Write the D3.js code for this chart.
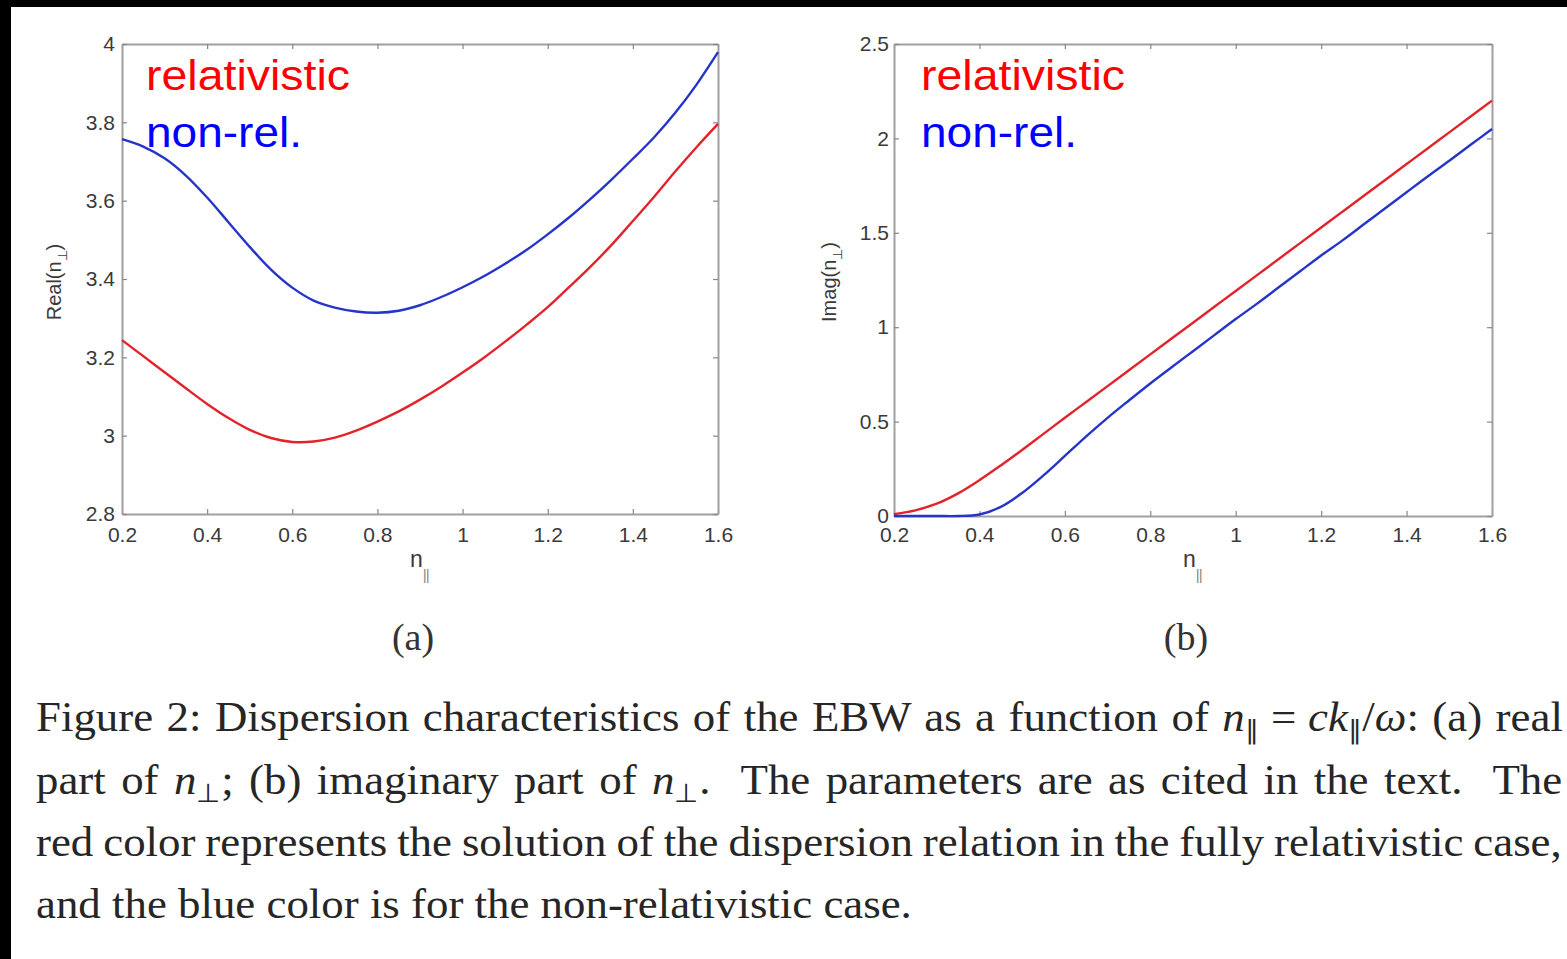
<!DOCTYPE html>
<html>
<head>
<meta charset="utf-8">
<script src="https://cdn.jsdelivr.net/npm/d3@7"></script>
<style>
  body { margin: 0; background: #fff; }
  svg { display: block; }
</style>
</head>
<body>
<svg id="fig" width="1567" height="959"></svg>
<script>
// n_parallel samples
var nPar = [0.2, 0.25, 0.3, 0.35, 0.4, 0.45, 0.5, 0.55, 0.6, 0.65, 0.7, 0.75, 0.8, 0.85, 0.9,
            0.95, 1.0, 1.05, 1.1, 1.15, 1.2, 1.25, 1.3, 1.35, 1.4, 1.45, 1.5, 1.55, 1.6];

// (a) real part of n_perp
var realRel    = [3.244, 3.203, 3.162, 3.121, 3.081, 3.045, 3.015, 2.994, 2.984, 2.985, 2.995, 3.013, 3.036, 3.062, 3.092,
                  3.125, 3.161, 3.199, 3.240, 3.283, 3.328, 3.379, 3.431, 3.487, 3.548, 3.610, 3.675, 3.737, 3.796];
var realNonRel = [3.757, 3.738, 3.708, 3.664, 3.608, 3.545, 3.482, 3.424, 3.378, 3.345, 3.327, 3.317, 3.314, 3.319, 3.333,
                  3.354, 3.379, 3.407, 3.439, 3.474, 3.514, 3.557, 3.604, 3.654, 3.707, 3.762, 3.825, 3.897, 3.979];

// (b) imaginary part of n_perp
var imagRel    = [0.01, 0.03, 0.065, 0.12, 0.19, 0.268, 0.35, 0.435, 0.52, 0.604, 0.688, 0.772, 0.856, 0.94, 1.024,
                  1.108, 1.192, 1.276, 1.36, 1.444, 1.528, 1.612, 1.696, 1.78, 1.864, 1.948, 2.032, 2.116, 2.2];
var imagNonRel = [0, 0, 0, 0, 0.008, 0.048, 0.122, 0.215, 0.318, 0.422, 0.52, 0.612, 0.702, 0.788, 0.873,
                  0.958, 1.043, 1.125, 1.21, 1.295, 1.38, 1.46, 1.545, 1.63, 1.715, 1.8, 1.882, 1.966, 2.05];

var xTicks = [0.2, 0.4, 0.6, 0.8, 1, 1.2, 1.4, 1.6];
var realTicks = [2.8, 3, 3.2, 3.4, 3.6, 3.8, 4];
var imagTicks = [0, 0.5, 1, 1.5, 2, 2.5];

var RED = "#e3232b", BLUE = "#2535c8";
var sans = "'Liberation Sans', Arial, sans-serif";
var serif = "'Liberation Serif', 'Times New Roman', serif";

var svg = d3.select("#fig");

// black scan border
svg.append("rect").attr("x", 0).attr("y", 0).attr("width", 1567).attr("height", 7).attr("fill", "#000");
svg.append("rect").attr("x", 0).attr("y", 0).attr("width", 11).attr("height", 959).attr("fill", "#000");

function fmt(d) { return String(+d.toFixed(2)); }

function drawPanel(cfg) {
    var x = d3.scaleLinear().domain([0.2, 1.6]).range([cfg.left, cfg.right]);
    var y = d3.scaleLinear().domain(cfg.yDomain).range([cfg.bottom, cfg.top]);
    var g = svg.append("g");

    // axes on all four sides, ticks inward
    g.append("g").attr("transform", "translate(0," + cfg.bottom + ")")
        .call(d3.axisBottom(x).tickValues(xTicks).tickFormat(fmt).tickSizeInner(-5).tickSizeOuter(0).tickPadding(cfg.xPad));
    g.append("g").attr("transform", "translate(0," + cfg.top + ")")
        .call(d3.axisTop(x).tickValues(xTicks).tickFormat("").tickSizeInner(-5).tickSizeOuter(0));
    g.append("g").attr("transform", "translate(" + cfg.left + ",0)")
        .call(d3.axisLeft(y).tickValues(cfg.yTicks).tickFormat(fmt).tickSizeInner(-5).tickSizeOuter(0).tickPadding(cfg.yPad));
    g.append("g").attr("transform", "translate(" + cfg.right + ",0)")
        .call(d3.axisRight(y).tickValues(cfg.yTicks).tickFormat("").tickSizeInner(-5).tickSizeOuter(0));

    g.selectAll(".domain").attr("stroke", "#a0a0a0").attr("stroke-width", 2);
    g.selectAll(".tick line").attr("stroke", "#888").attr("stroke-width", 1.2);
    g.selectAll(".tick text").attr("fill", "#3a3a3a")
        .style("font-family", sans).style("font-size", "21px");

    var line = d3.line().x(function(d) { return x(d[0]); }).y(function(d) { return y(d[1]); })
        .curve(d3.curveCatmullRom.alpha(0.5));

    g.append("path").datum(d3.zip(nPar, cfg.rel))
        .attr("d", line).attr("fill", "none").attr("stroke", RED).attr("stroke-width", 2.4);
    g.append("path").datum(d3.zip(nPar, cfg.nonrel))
        .attr("d", line).attr("fill", "none").attr("stroke", BLUE).attr("stroke-width", 2.4);

    // legend words
    var lx = cfg.left + cfg.legDx;
    g.append("text").attr("x", lx).attr("y", 90).text("relativistic")
        .attr("fill", "#ff0000").attr("textLength", 204).attr("lengthAdjust", "spacingAndGlyphs")
        .style("font-family", sans).style("font-size", "43px");
    g.append("text").attr("x", lx).attr("y", 147).text("non-rel.")
        .attr("fill", "#0000ff").attr("textLength", 156).attr("lengthAdjust", "spacingAndGlyphs")
        .style("font-family", sans).style("font-size", "43px");

    // x label n_||
    var cx = (cfg.left + cfg.right) / 2;
    var xl = g.append("text").attr("x", cx - 10).attr("y", 567).attr("fill", "#3a3a3a")
        .style("font-family", sans).style("font-size", "23px");
    xl.append("tspan").text("n");
    xl.append("tspan").attr("dy", 13).attr("fill", "#8a8a8a").style("font-size", "15px").attr("letter-spacing", "-1").text("||");

    // y label
    var yl = g.append("text").attr("transform", "translate(" + cfg.yLabelX + ",282) rotate(-90)")
        .attr("text-anchor", "middle").attr("fill", "#3a3a3a")
        .style("font-family", sans).style("font-size", "20px");
    yl.append("tspan").text(cfg.yLabel + "(n");
    yl.append("tspan").attr("dy", 6).style("font-size", "13px").text("\u22A5");
    yl.append("tspan").attr("dy", -6).text(")");

    // sub-caption
    svg.append("text").attr("x", cfg.capX).attr("y", 650).attr("text-anchor", "middle").attr("fill", "#333")
        .style("font-family", serif).style("font-size", "38px")
        .text(cfg.caption);
}

drawPanel({ left: 122, right: 718, top: 44, bottom: 514, yDomain: [2.8, 4], yTicks: realTicks,
            rel: realRel, nonrel: realNonRel, xPad: 13, yPad: 7, yLabel: "Real", yLabelX: 61,
            legDx: 24, caption: "(a)", capX: 413 });
drawPanel({ left: 894, right: 1492, top: 44, bottom: 516, yDomain: [0, 2.5], yTicks: imagTicks,
            rel: imagRel, nonrel: imagNonRel, xPad: 11, yPad: 5, yLabel: "Imag", yLabelX: 836,
            legDx: 27, caption: "(b)", capX: 1186 });

// figure caption (TeX-like justified paragraph)
var capLeft = 36, capWidth = 1526;
var capLines = [
    { y: 731, justify: true, segs: [
        { t: "Figure 2: Dispersion characteristics of the EBW as a function of " },
        { t: "n", it: true }, { t: "\u2225", sub: true },
        { t: "=", dx: 11 },
        { t: "ck", it: true, dx: 11 }, { t: "\u2225", sub: true },
        { t: "/" }, { t: "\u03C9", it: true },
        { t: ": (a) real" } ] },
    { y: 794, justify: true, segs: [
        { t: "part of " },
        { t: "n", it: true }, { t: "\u22A5", sub: true },
        { t: "; (b) imaginary part of " },
        { t: "n", it: true }, { t: "\u22A5", sub: true },
        { t: ".\u00A0 The parameters are as cited in the text.\u00A0 The" } ] },
    { y: 856, justify: true, segs: [
        { t: "red color represents the solution of the dispersion relation in the fully relativistic case," } ] },
    { y: 918, justify: false, width: 876, segs: [
        { t: "and the blue color is for the non-relativistic case." } ] }
];

function buildLine(l) {
    var t = svg.append("text").attr("x", 0).attr("y", 0).attr("fill", "#262626")
        .style("font-family", serif).style("font-size", "42px");
    var shift = 0, nSp = 0;
    l.segs.forEach(function(s) {
        var want = s.sub ? 8 : 0;
        var sp = t.append("tspan").attr("dy", want - shift).text(s.t);
        shift = want;
        if (s.sub) sp.style("font-size", "26px");
        if (s.it) sp.style("font-style", "italic");
        if (s.dx) sp.attr("dx", s.dx);
        if (!s.sub) nSp += (s.t.match(/[ \u00A0]/g) || []).length;
    });
    return { node: t, spaces: nSp };
}

// the last (unjustified) line fixes the glyph stretch, the others get extra word spacing
var built = capLines.map(buildLine);
var last = capLines.length - 1;
var stretch = capLines[last].width / built[last].node.node().getBBox().width;

capLines.forEach(function(l, i) {
    var b = built[i];
    if (l.justify) {
        var w0 = b.node.node().getBBox().width;
        b.node.style("word-spacing", ((capWidth / stretch - w0) / b.spaces) + "px");
    }
    b.node.attr("transform", "translate(" + capLeft + "," + l.y + ") scale(" + stretch + ",1)");
});
</script>
</body>
</html>
